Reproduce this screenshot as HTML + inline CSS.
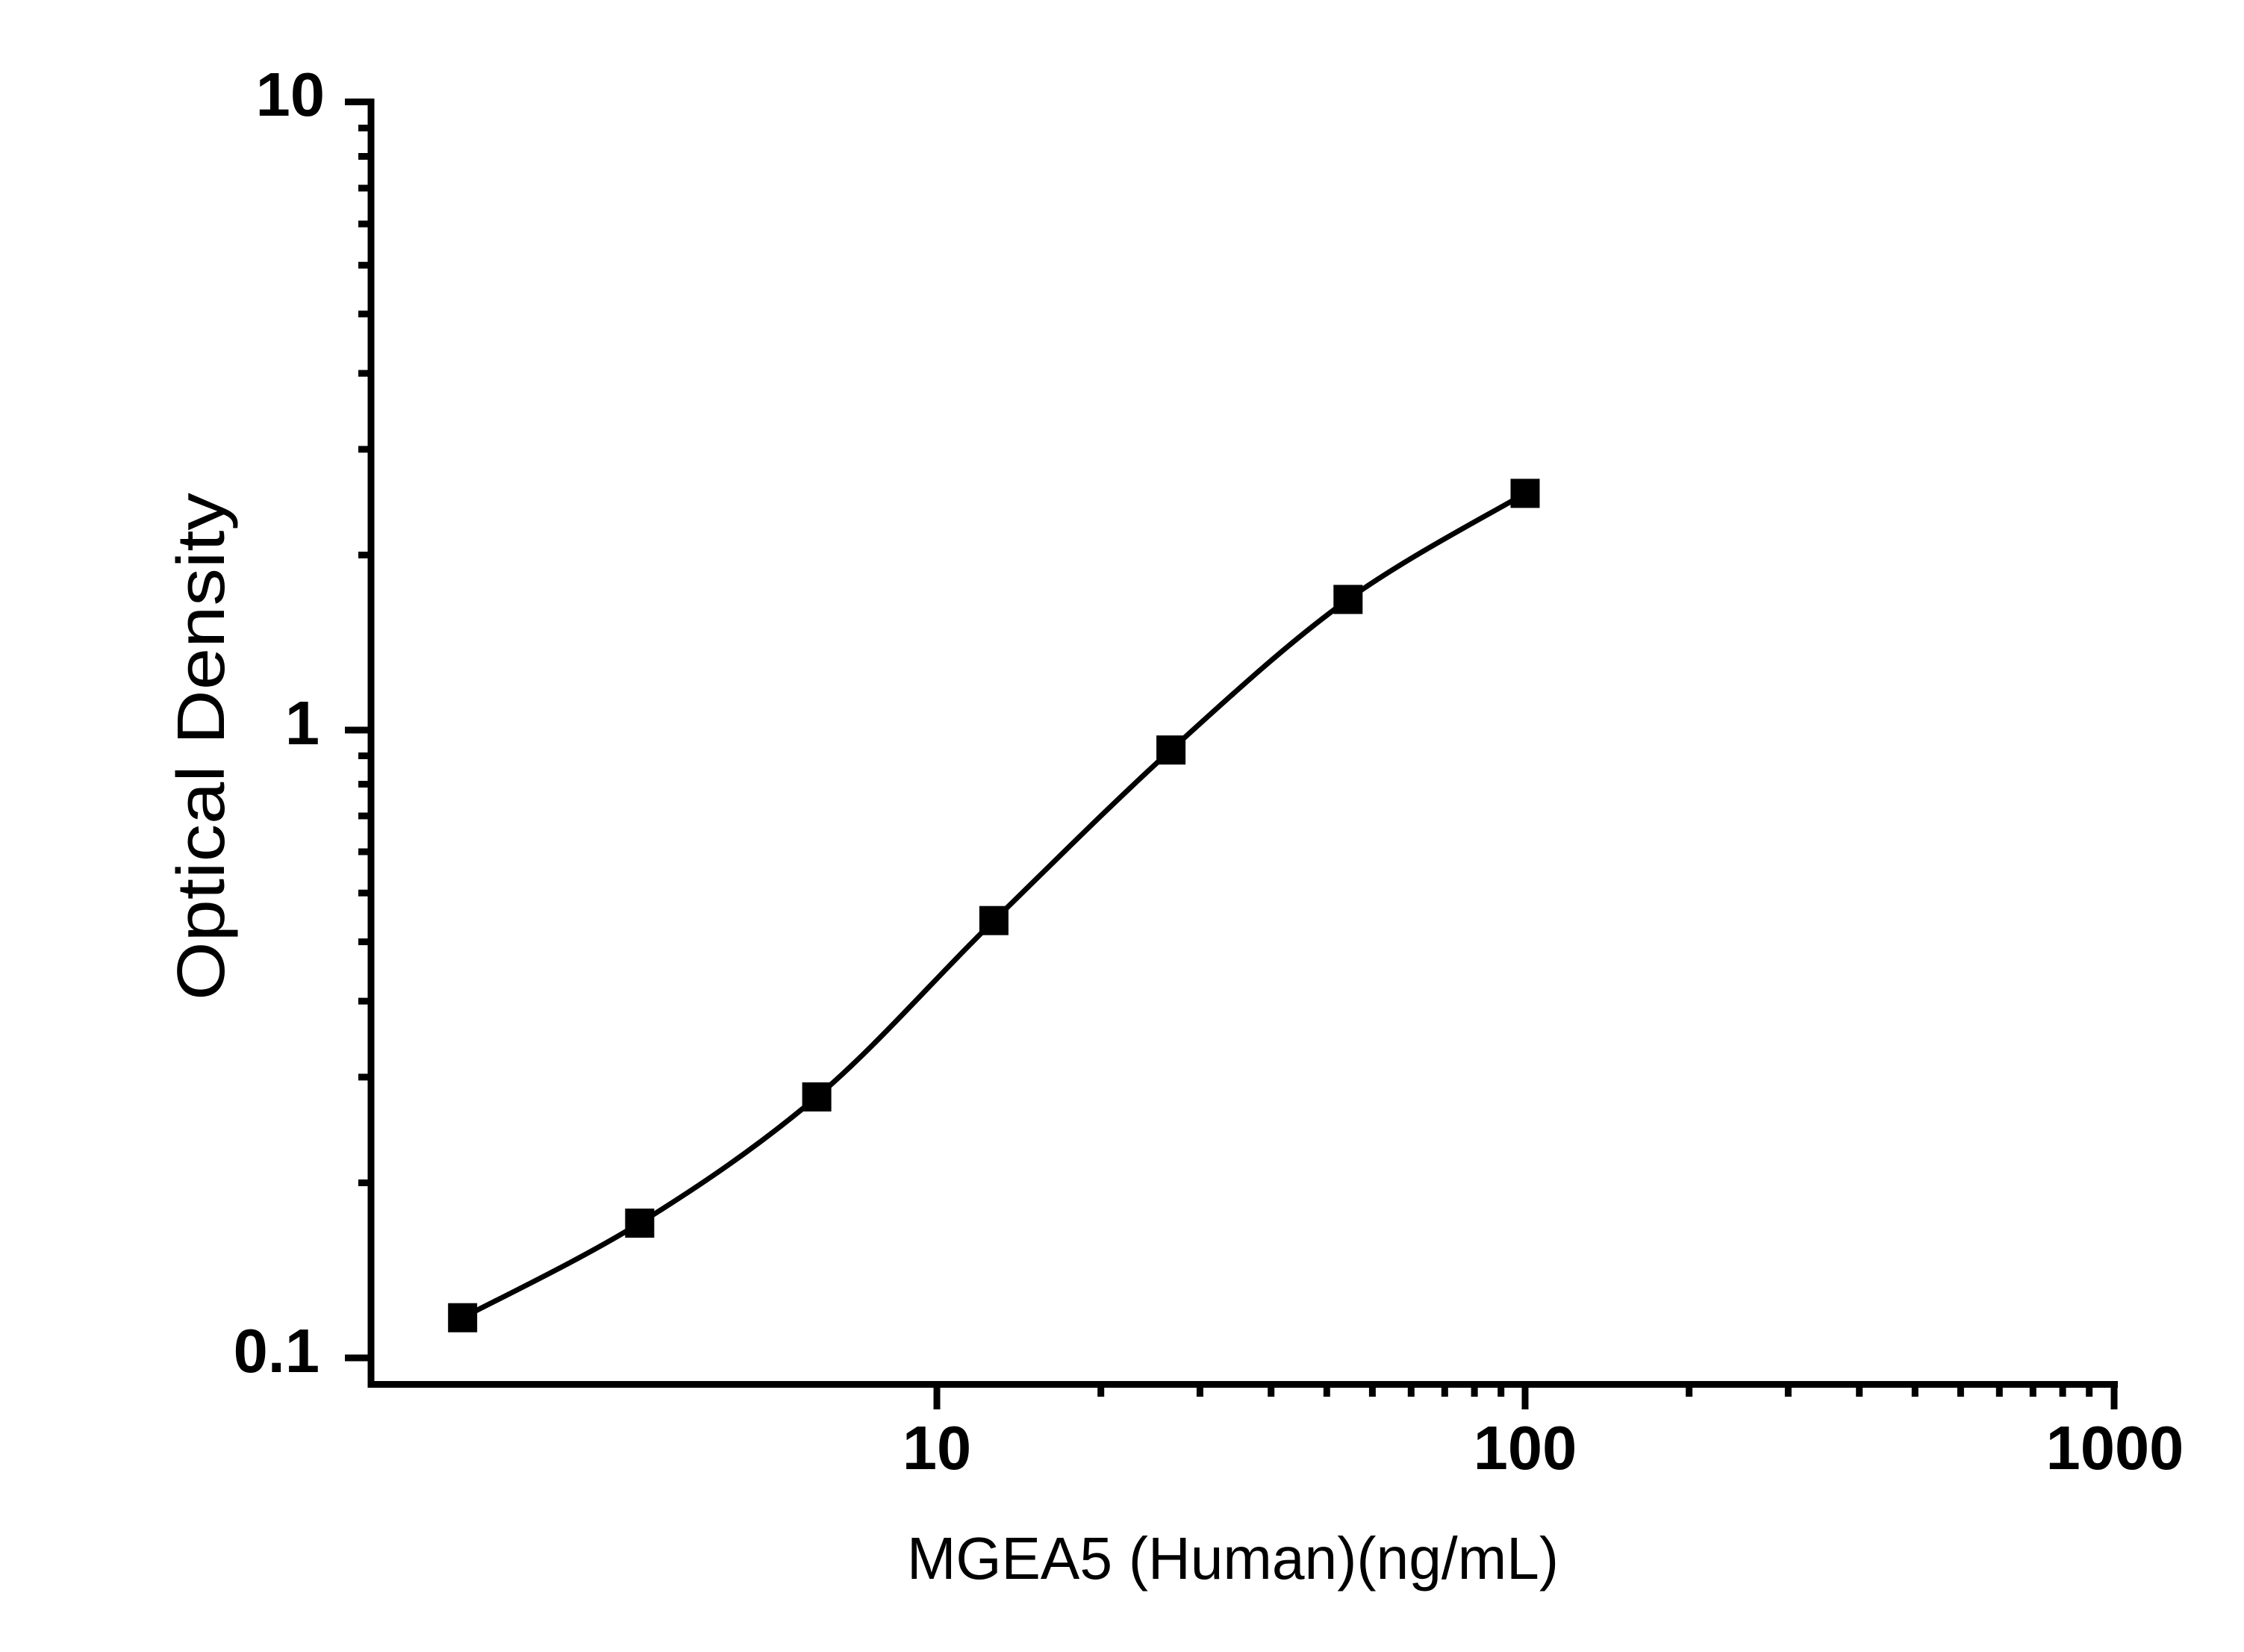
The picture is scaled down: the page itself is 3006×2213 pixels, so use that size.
<!DOCTYPE html>
<html><head><meta charset="utf-8"><style>
html,body{margin:0;padding:0;background:#fff;}
svg{display:block;}
</style></head><body>
<svg width="3006" height="2213" viewBox="0 0 3006 2213" xmlns="http://www.w3.org/2000/svg">
<rect width="3006" height="2213" fill="#fff"/>
<g stroke="#000" stroke-width="9" fill="none">
<path d="M497,132 V1859 M493,1854.5 H2837"/>
<path d="M462,136.5 H497 M462,978 H497 M462,1819 H497"/>
<path d="M480,1584.5H497M480,1442.9H497M480,1341.1H497M480,1261.6H497M480,1196.3H497M480,1141H497M480,1093H497M480,1050.5H497M480,1012.5H497
M480,743.5H497M480,601.9H497M480,500.1H497M480,420.6H497M480,355.3H497M480,300H497M480,252H497M480,209.5H497M480,171.5H497"/>
<path d="M1255,1854 V1888 M2043,1854 V1888 M2832,1854 V1888"/>
<path d="M1474.7,1854V1871M1607.4,1854V1871M1702.7,1854V1871M1777.3,1854V1871M1838.4,1854V1871M1890.3,1854V1871M1935.3,1854V1871M1975.1,1854V1871M2010.7,1854V1871
M2262.7,1854V1871M2395.4,1854V1871M2490.7,1854V1871M2565.3,1854V1871M2626.4,1854V1871M2678.3,1854V1871M2723.3,1854V1871M2763.1,1854V1871M2798.7,1854V1871"/>
</g>
<path fill="none" stroke="#000" stroke-width="7" d="M619.7,1765.2 C659.2,1744.1 777.3,1687.8 856.9,1638.5 C936.5,1589.2 1014.1,1537.0 1094.1,1469.4 C1174.1,1401.8 1252.0,1310.7 1331.4,1233.2 C1410.8,1155.7 1489.7,1076.4 1568.6,1004.7 C1647.5,933.0 1726.4,860.3 1805.8,803.0 C1885.2,745.7 2003.5,684.6 2043,660.9"/>
<g fill="#000">
<rect x="600.2" y="1745.7" width="39" height="39"/>
<rect x="837.4" y="1619" width="39" height="39"/>
<rect x="1074.6" y="1449.9" width="39" height="39"/>
<rect x="1311.9" y="1213.7" width="39" height="39"/>
<rect x="1549.1" y="985.2" width="39" height="39"/>
<rect x="1786.3" y="783.5" width="39" height="39"/>
<rect x="2023.5" y="641.4" width="39" height="39"/>
</g>
<g font-family="Liberation Sans, Arial, sans-serif" font-weight="bold" font-size="83" fill="#000">
<text x="435" y="155" text-anchor="end">10</text>
<text x="428" y="997" text-anchor="end">1</text>
<text x="428" y="1838" text-anchor="end">0.1</text>
<text x="1255" y="1968" text-anchor="middle">10</text>
<text x="2043" y="1968" text-anchor="middle">100</text>
<text x="2833" y="1968" text-anchor="middle">1000</text>
</g>
<g font-family="Liberation Sans, Arial, sans-serif" font-size="80" fill="#000">
<text x="1215" y="2115" textLength="873" lengthAdjust="spacingAndGlyphs">MGEA5 (Human)(ng/mL)</text>
<text transform="translate(300,1340) rotate(-90)" x="0" y="0" textLength="680" lengthAdjust="spacingAndGlyphs" font-size="90">Optical Density</text>
</g>
</svg>
</body></html>
